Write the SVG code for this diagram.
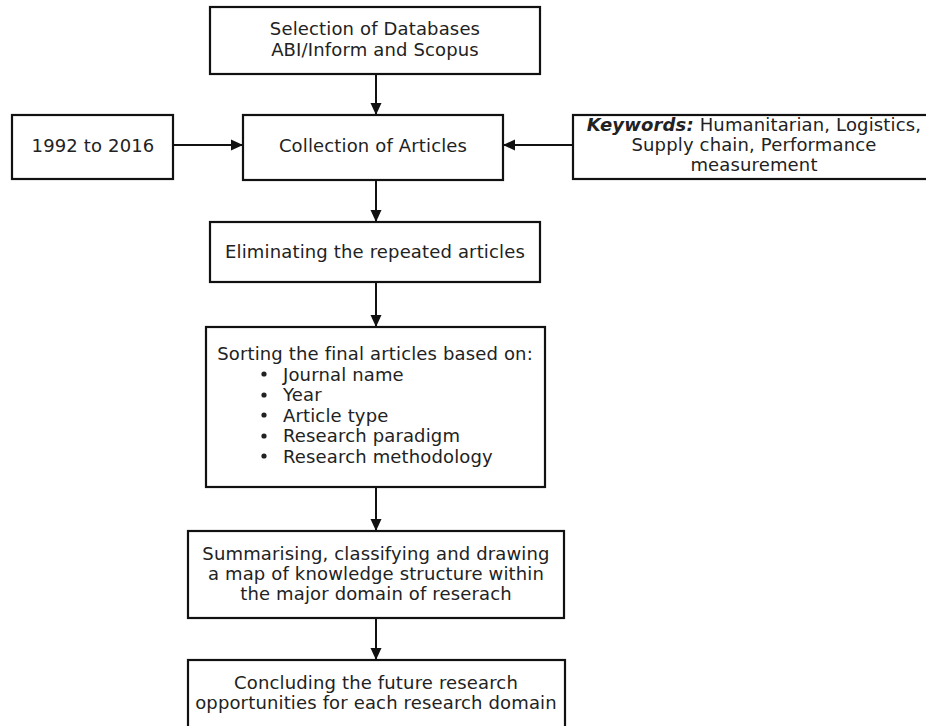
<svg xmlns="http://www.w3.org/2000/svg" width="926" height="726" viewBox="0 0 926 726">
  <style>
    .box { fill: #ffffff; stroke: #111111; stroke-width: 2.2; }
    .lbl { font-family: "DejaVu Sans", Verdana, sans-serif; font-size: 18px; letter-spacing: 0.15px; fill: #222222; }
    .mid { text-anchor: middle; }
    .edge { stroke: #111111; stroke-width: 2; fill: none; marker-end: url(#arrow); }
  </style>
  <defs>
    <marker id="arrow" viewBox="0 0 12 12" refX="12" refY="6" markerWidth="12" markerHeight="12" markerUnits="userSpaceOnUse" orient="auto">
      <path d="M0,0.5 L12,6 L0,11.5 Z" fill="#111111"/>
    </marker>
  </defs>
  <rect width="926" height="726" fill="#ffffff"/>

  <g id="connectors">
    <line class="edge" x1="376" y1="74" x2="376" y2="115"/>
    <line class="edge" x1="173" y1="145" x2="243" y2="145"/>
    <line class="edge" x1="573" y1="145" x2="503" y2="145"/>
    <line class="edge" x1="376" y1="180" x2="376" y2="222"/>
    <line class="edge" x1="376" y1="282" x2="376" y2="327"/>
    <line class="edge" x1="376" y1="487" x2="376" y2="531"/>
    <line class="edge" x1="376" y1="618" x2="376" y2="660"/>
  </g>

  <g id="databases">
    <rect class="box" x="210" y="7" width="330" height="67"/>
    <text class="lbl mid" x="375" y="35">Selection of Databases</text>
    <text class="lbl mid" x="375" y="56">ABI/Inform and Scopus</text>
  </g>

  <g id="collection">
    <rect class="box" x="243" y="115" width="260" height="65"/>
    <text class="lbl mid" x="373" y="152">Collection of Articles</text>
  </g>

  <g id="period">
    <rect class="box" x="12" y="115" width="161" height="64"/>
    <text class="lbl mid" x="93" y="152">1992 to 2016</text>
  </g>

  <g id="keywords">
    <rect class="box" x="573" y="115" width="362" height="64"/>
    <text class="lbl mid" x="754" y="131"><tspan font-weight="bold" font-style="italic">Keywords:</tspan> Humanitarian, Logistics,</text>
    <text class="lbl mid" x="754" y="151">Supply chain, Performance</text>
    <text class="lbl mid" x="754" y="171">measurement</text>
  </g>

  <g id="eliminate">
    <rect class="box" x="210" y="222" width="330" height="60"/>
    <text class="lbl mid" x="375" y="258">Eliminating the repeated articles</text>
  </g>

  <g id="sorting">
    <rect class="box" x="206" y="327" width="339" height="160"/>
    <text class="lbl mid" x="375" y="360">Sorting the final articles based on:</text>
    <g fill="#222222">
      <circle cx="264" cy="374" r="2.6"/>
      <circle cx="264" cy="395" r="2.6"/>
      <circle cx="264" cy="415" r="2.6"/>
      <circle cx="264" cy="436" r="2.6"/>
      <circle cx="264" cy="456" r="2.6"/>
    </g>
    <text class="lbl" x="283" y="381">Journal name</text>
    <text class="lbl" x="283" y="401">Year</text>
    <text class="lbl" x="283" y="422">Article type</text>
    <text class="lbl" x="283" y="442">Research paradigm</text>
    <text class="lbl" x="283" y="463">Research methodology</text>
  </g>

  <g id="summarising">
    <rect class="box" x="188" y="531" width="376" height="87"/>
    <text class="lbl mid" x="376" y="560">Summarising, classifying and drawing</text>
    <text class="lbl mid" x="376" y="580">a map of knowledge structure within</text>
    <text class="lbl mid" x="376" y="600">the major domain of reserach</text>
  </g>

  <g id="concluding">
    <rect class="box" x="188" y="660" width="377" height="80"/>
    <text class="lbl mid" x="376" y="689">Concluding the future research</text>
    <text class="lbl mid" x="376" y="709">opportunities for each research domain</text>
  </g>
</svg>
